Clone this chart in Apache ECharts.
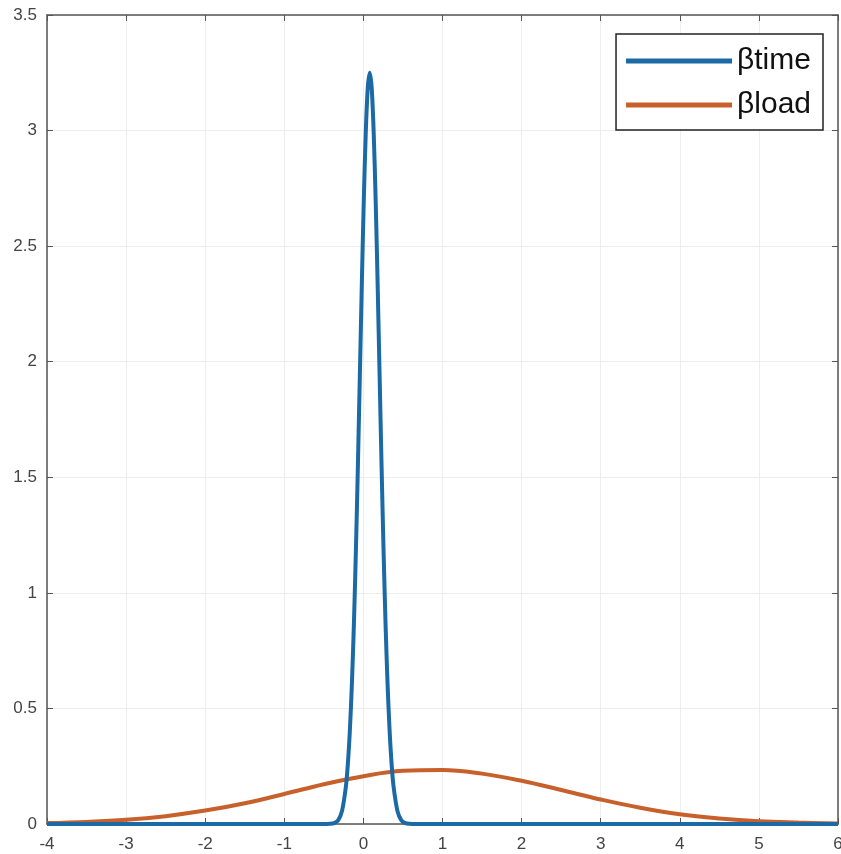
<!DOCTYPE html>
<html>
<head>
<meta charset="utf-8">
<script src="https://cdn.jsdelivr.net/npm/echarts@6/dist/echarts.min.js"></script>
<style>html,body{margin:0;padding:0;background:#fff}#c{width:841px;height:854px}</style>
</head>
<body>
<div id="c"></div>
<script>
// Data
var xTicks = [-4, -3, -2, -1, 0, 1, 2, 3, 4, 5, 6];
var yTicks = [0, 0.5, 1, 1.5, 2, 2.5, 3, 3.5];
var seriesNames = ['βtime', 'βload'];

var timeX = [-4, -0.52, -0.42, -0.37, -0.32, -0.27, -0.22, -0.195, -0.17, -0.145, -0.12, -0.095, -0.07, -0.045, -0.02, 0.005, 0.03, 0.055, 0.08,
             0.105, 0.13, 0.155, 0.18, 0.205, 0.23, 0.255, 0.28, 0.305, 0.33, 0.355, 0.38, 0.43, 0.48, 0.53, 0.58, 0.68, 6];
var timeY = [0, 0, 0.001, 0.004, 0.016, 0.057, 0.166, 0.267, 0.412, 0.610, 0.866, 1.181, 1.545, 1.939, 2.335, 2.699, 2.992, 3.184, 3.250,
             3.184, 2.992, 2.699, 2.335, 1.939, 1.545, 1.181, 0.866, 0.610, 0.412, 0.267, 0.166, 0.057, 0.016, 0.004, 0.001, 0, 0];

var loadX = [-4, -3.5, -3, -2.5, -2, -1.5, -1, -0.5, 0, 0.5, 1, 1.5, 2, 2.5, 3, 3.5, 4, 4.5, 5, 5.5, 6];
var loadY = [0.004, 0.009, 0.018, 0.034, 0.058, 0.090, 0.130, 0.172, 0.207, 0.230, 0.234, 0.218, 0.187, 0.147, 0.106, 0.070, 0.042, 0.024, 0.012, 0.006, 0.002];

function pairs(xs, ys) { return xs.map(function (x, i) { return [x, ys[i]]; }); }

var chart = echarts.init(document.getElementById('c'), null, {renderer: 'canvas'});
var labelStyle = {color: '#444', fontSize: 17, fontFamily: 'Liberation Sans, Arial, sans-serif'};
var hidden = {show: false};
var axLine = {show: true, onZero: false, lineStyle: {color: '#555', width: 1.5}};
var axTick = {show: true, inside: true, length: 6, lineStyle: {color: '#555'}};
chart.setOption({
  animation: false,
  backgroundColor: '#fff',
  grid: {left: 47, right: 3, top: 15, bottom: 30, containLabel: false, outerBoundsMode: 'none'},
  legend: {
    data: seriesNames,
    orient: 'vertical',
    right: 18,
    top: 34,
    icon: 'rect',
    itemWidth: 106,
    itemHeight: 5,
    itemGap: 14,
    padding: [12, 12, 10, 10],
    borderColor: '#222',
    borderWidth: 1.5,
    backgroundColor: '#fff',
    textStyle: {fontSize: 30, color: '#111', fontFamily: 'Liberation Sans, Arial, sans-serif'}
  },
  xAxis: [{
    type: 'value', min: -4, max: 6, interval: 1, position: 'bottom',
    axisLine: axLine, axisTick: axTick,
    axisLabel: Object.assign({margin: 12, formatter: function (v) { return xTicks.indexOf(v) >= 0 ? String(v) : ''; }}, labelStyle),
    splitLine: {show: true, lineStyle: {color: '#ededed', width: 1}}
  }, {
    type: 'value', min: -4, max: 6, interval: 1, position: 'top',
    axisLine: axLine, axisTick: axTick,
    axisLabel: hidden, splitLine: hidden
  }],
  yAxis: [{
    type: 'value', min: 0, max: 3.5, interval: 0.5, position: 'left',
    axisLine: axLine, axisTick: axTick,
    axisLabel: Object.assign({margin: 10, formatter: function (v) { return yTicks.indexOf(v) >= 0 ? String(v) : ''; }}, labelStyle),
    splitLine: {show: true, lineStyle: {color: '#ededed', width: 1}}
  }, {
    type: 'value', min: 0, max: 3.5, interval: 0.5, position: 'right',
    axisLine: axLine, axisTick: axTick,
    axisLabel: hidden, splitLine: hidden
  }],
  series: [{
    name: seriesNames[0], type: 'line', smooth: 0.3, showSymbol: false,
    data: pairs(timeX, timeY),
    itemStyle: {color: '#1b6aa5'},
    lineStyle: {color: '#1b6aa5', width: 4},
    z: 3
  }, {
    name: seriesNames[1], type: 'line', smooth: 0.4, showSymbol: false,
    data: pairs(loadX, loadY),
    itemStyle: {color: '#c8602c'},
    lineStyle: {color: '#c8602c', width: 4},
    z: 2
  }]
});
</script>
</body>
</html>
